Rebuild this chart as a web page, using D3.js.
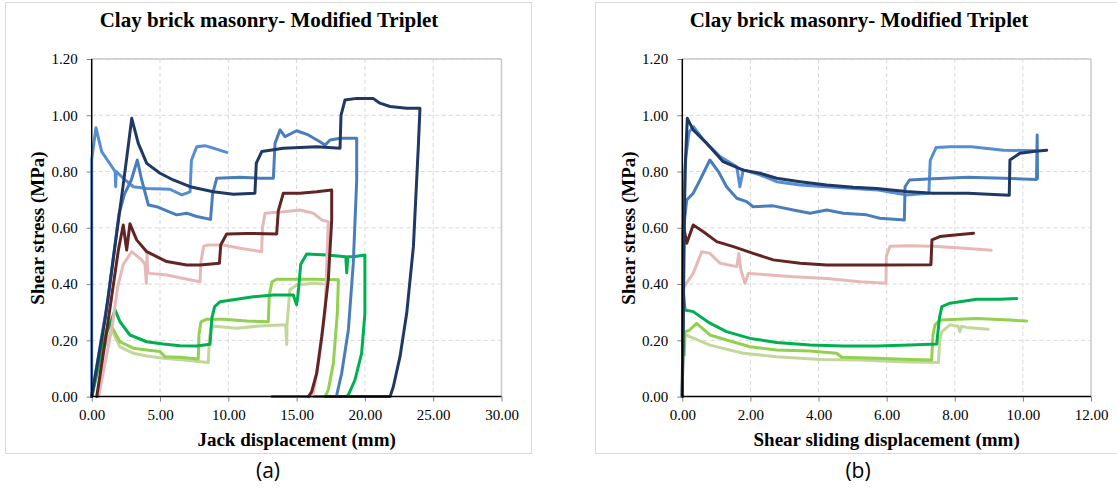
<!DOCTYPE html>
<html>
<head>
<meta charset="utf-8">
<script src="https://cdn.jsdelivr.net/npm/d3@7"></script>
<style>
  body { margin: 0; background: #fff; }
  text { font-family: "Liberation Serif", "Times New Roman", serif; }
</style>
</head>
<body>
<div id="chart"></div>
<script>
// ---- data ----
var seriesNames = ["S1", "S2", "S3", "S4", "S5", "S6", "S7", "S8"];
var seriesColors = ["#c4d79b", "#92d050", "#00b050", "#e6b9b8", "#632523", "#558ed5", "#4a7ebb", "#1f3864"];

var yTicks = [0, 0.2, 0.4, 0.6, 0.8, 1.0, 1.2];
var xTicksJack = [0, 5, 10, 15, 20, 25, 30];
var xTicksSlide = [0, 2, 4, 6, 8, 10, 12];

// (a) shear stress vs jack displacement
var jackPaleGreen = [[0,0],[0.8,0.16],[1.46,0.237],[2.07,0.177],[3.05,0.154],[4.03,0.144],[5.24,0.136],[6.71,0.13],[8.54,0.121],[8.6,0.2],[8.75,0.249],[9.15,0.249],[10.61,0.243],[12.32,0.251],[14.2,0.255],[14.28,0.185],[14.3,0.255],[14.5,0.379],[15.0,0.397],[16.22,0.403],[16.9,0.4]];
var jackLightGreen = [[0,0],[0.97,0.225],[1.34,0.26],[2.07,0.195],[3.05,0.172],[4.03,0.166],[5.0,0.16],[5.37,0.142],[6.46,0.14],[7.8,0.134],[7.85,0.22],[8.0,0.266],[8.42,0.275],[9.63,0.275],[11.35,0.269],[12.93,0.266],[13.0,0.36],[13.2,0.408],[13.54,0.417],[16.22,0.417],[18.06,0.415],[17.98,0.296],[17.69,0.118],[17.32,0.024],[17.08,0]];
var jackGreen = [[0,0],[0.9,0.2],[1.71,0.308],[2.07,0.266],[2.8,0.219],[4.03,0.195],[5.24,0.187],[6.46,0.181],[7.69,0.18],[8.66,0.186],[8.8,0.28],[9.0,0.32],[9.39,0.337],[10.61,0.346],[11.83,0.355],[13.3,0.361],[14.76,0.361],[15.0,0.326],[15.1,0.36],[15.3,0.47],[15.74,0.507],[17.2,0.503],[18.6,0.497],[18.67,0.44],[18.75,0.497],[19.15,0.497],[20.0,0.503],[20.0,0.296],[19.76,0.154],[19.27,0.059],[18.79,0.006],[18.6,0],[13.2,0]];
var jackPink = [[0.5,0],[1.5,0.25],[1.9,0.39],[2.31,0.47],[2.93,0.515],[3.3,0.5],[3.66,0.486],[3.9,0.47],[4.0,0.403],[4.05,0.51],[4.1,0.44],[4.27,0.438],[5.49,0.432],[6.71,0.42],[7.93,0.408],[8.0,0.48],[8.2,0.535],[8.54,0.539],[9.63,0.539],[10.86,0.527],[12.44,0.515],[12.5,0.6],[12.69,0.652],[14.03,0.657],[15.25,0.663],[16.22,0.652],[16.84,0.628],[17.32,0.622],[17.08,0.296],[16.59,0.118],[16.22,0.012],[16.1,0]];
var jackMaroon = [[0.37,0],[1.0,0.2],[1.95,0.52],[2.31,0.61],[2.56,0.521],[2.8,0.614],[3.29,0.557],[4.03,0.515],[5.49,0.48],[6.95,0.468],[7.93,0.468],[9.35,0.474],[9.45,0.54],[9.88,0.578],[11.35,0.58],[13.54,0.578],[13.66,0.66],[14.03,0.723],[15.25,0.723],[16.47,0.728],[17.57,0.734],[17.57,0.628],[17.32,0.415],[16.84,0.213],[16.47,0.083],[16.1,0.017],[15.86,0]];
var jackLightBlue = [[0,0],[0,0.841],[0.31,0.956],[0.73,0.871],[1.58,0.81],[1.72,0.8],[1.75,0.746],[1.8,0.8],[2.31,0.776],[3.05,0.746],[4.03,0.74],[5.73,0.737],[6.59,0.717],[7.2,0.728],[7.3,0.84],[7.69,0.888],[8.29,0.892],[8.9,0.883],[9.88,0.868]];
var jackMidBlue = [[0,0],[1.2,0.35],[2.0,0.65],[2.4,0.72],[2.9,0.77],[3.34,0.841],[3.66,0.77],[4.15,0.681],[4.76,0.675],[5.37,0.663],[6.22,0.646],[6.95,0.652],[7.69,0.64],[8.7,0.63],[8.85,0.72],[9.15,0.776],[10.86,0.78],[12.32,0.776],[13.3,0.776],[13.42,0.9],[13.79,0.948],[14.15,0.924],[15.0,0.945],[15.86,0.93],[16.71,0.906],[17.08,0.894],[17.45,0.912],[18.18,0.918],[19.4,0.918],[19.4,0.77],[19.15,0.474],[18.79,0.237],[18.3,0.083],[17.94,0.006],[17.9,0]];
var jackNavy = [[0,0],[1.0,0.28],[1.58,0.49],[2.3,0.75],[2.7,0.9],[2.93,0.989],[3.41,0.9],[4.03,0.829],[5.0,0.794],[5.97,0.77],[7.2,0.746],[8.9,0.728],[10.37,0.719],[11.95,0.723],[12.05,0.83],[12.45,0.871],[14.03,0.883],[16.47,0.888],[18.18,0.883],[18.25,1.0],[18.54,1.054],[19.4,1.06],[20.6,1.06],[21.1,1.043],[21.84,1.031],[23.06,1.025],[24.03,1.025],[23.91,0.888],[23.55,0.533],[23.06,0.296],[22.57,0.142],[22.08,0.035],[21.84,0],[17.1,0]];

// (b) shear stress vs shear sliding displacement
var slidePaleGreen = [[0.03,0.225],[0.08,0.22],[0.81,0.183],[1.79,0.154],[2.77,0.142],[4.04,0.132],[5.22,0.13],[6.39,0.124],[7.52,0.121],[7.56,0.2],[7.62,0.231],[7.86,0.255],[8.1,0.25],[8.15,0.231],[8.2,0.25],[8.35,0.246],[8.98,0.239]];
var slideLightGreen = [[0.06,0.148],[0.08,0.231],[0.2,0.235],[0.42,0.26],[0.81,0.219],[1.3,0.201],[1.99,0.177],[2.77,0.166],[3.75,0.162],[4.53,0.154],[4.68,0.14],[5.71,0.136],[6.69,0.132],[7.32,0.13],[7.36,0.22],[7.42,0.255],[7.57,0.272],[8.64,0.278],[9.62,0.272],[10.11,0.269]];
var slideGreen = [[0,0],[0.03,0.374],[0.08,0.308],[0.32,0.302],[0.81,0.261],[1.3,0.231],[1.99,0.207],[2.77,0.192],[3.75,0.183],[4.73,0.18],[5.71,0.18],[6.69,0.183],[7.47,0.187],[7.55,0.28],[7.62,0.32],[7.86,0.332],[8.64,0.346],[9.33,0.346],[9.82,0.349]];
var slidePink = [[0.06,0.392],[0.32,0.438],[0.57,0.515],[0.81,0.509],[1.11,0.474],[1.6,0.462],[1.66,0.509],[1.72,0.45],[1.84,0.403],[1.94,0.438],[2.57,0.432],[3.26,0.426],[4.24,0.42],[5.22,0.408],[5.98,0.403],[5.99,0.5],[6.1,0.534],[6.62,0.536],[7.35,0.534],[8.18,0.528],[9.07,0.52]];
var slideMaroon = [[0,0],[0.03,0.61],[0.13,0.545],[0.32,0.61],[0.62,0.586],[1.01,0.551],[1.5,0.533],[2.08,0.509],[2.67,0.486],[3.46,0.474],[4.24,0.468],[5.02,0.468],[5.71,0.468],[7.3,0.469],[7.33,0.557],[7.56,0.569],[8.08,0.575],[8.55,0.581]];
var slideLightBlue = [[0,0],[0.03,0.6],[0.1,0.85],[0.2,0.94],[0.32,0.96],[0.62,0.912],[1.11,0.853],[1.6,0.817],[1.69,0.746],[1.79,0.806],[2.28,0.788],[2.77,0.764],[3.46,0.752],[4.24,0.746],[5.02,0.74],[5.75,0.734],[6.57,0.717],[7.24,0.723],[7.28,0.84],[7.45,0.885],[7.87,0.888],[8.49,0.888],[9.43,0.876],[10.4,0.874]];
var slideMidBlue = [[0,0],[0.04,0.6],[0.13,0.699],[0.32,0.723],[0.52,0.77],[0.81,0.841],[1.06,0.8],[1.3,0.746],[1.6,0.705],[1.89,0.693],[2.08,0.675],[2.67,0.678],[3.26,0.663],[3.75,0.652],[4.24,0.663],[4.73,0.652],[5.41,0.646],[5.8,0.634],[6.52,0.628],[6.54,0.746],[6.67,0.77],[7.35,0.774],[8.39,0.78],[9.43,0.776],[10.4,0.772],[10.42,0.93],[10.43,0.775]];
var slideNavy = [[0,0],[0.08,0.8],[0.147,0.989],[0.32,0.948],[0.72,0.9],[1.2,0.835],[1.79,0.805],[2.28,0.794],[2.77,0.776],[3.46,0.764],[4.24,0.752],[5.02,0.744],[5.71,0.74],[6.57,0.729],[7.35,0.723],[8.39,0.723],[9.6,0.716],[9.62,0.841],[9.91,0.865],[10.37,0.872],[10.7,0.876]];

var jackSeries = [jackPaleGreen, jackLightGreen, jackGreen, jackPink, jackMaroon, jackLightBlue, jackMidBlue, jackNavy];
var slideSeries = [slidePaleGreen, slideLightGreen, slideGreen, slidePink, slideMaroon, slideLightBlue, slideMidBlue, slideNavy];

var width = 1117, height = 488;

var svg = d3.select('#chart')
  .append('svg')
  .attr('width', width)
  .attr('height', height);

function drawPanel(cfg) {
  var g = svg.append('g');

  // outer frame of the chart box
  g.append('rect')
    .attr('x', cfg.box[0] + 0.5).attr('y', cfg.box[1] + 0.5)
    .attr('width', cfg.box[2]).attr('height', cfg.box[3])
    .attr('fill', '#fff').attr('stroke', '#d9d9d9');

  var x = d3.scaleLinear().domain(cfg.xDomain).range([cfg.left, cfg.right]);
  var y = d3.scaleLinear().domain([0, 1.2]).range([cfg.bottom, cfg.top]);

  // dashed grid
  g.selectAll('.vgrid').data(cfg.xTicks.slice(1, -1)).enter()
    .append('line')
    .attr('x1', function(d) { return x(d); }).attr('x2', function(d) { return x(d); })
    .attr('y1', cfg.top).attr('y2', cfg.bottom)
    .attr('stroke', '#d9d9d9').attr('stroke-dasharray', '4,3');
  g.selectAll('.hgrid').data(yTicks.slice(1)).enter()
    .append('line')
    .attr('x1', cfg.left).attr('x2', cfg.right)
    .attr('y1', function(d) { return y(d); }).attr('y2', function(d) { return y(d); })
    .attr('stroke', '#d9d9d9').attr('stroke-dasharray', '4,3');

  // plot area top/right border
  g.append('line').attr('x1', cfg.left).attr('x2', cfg.right).attr('y1', cfg.top).attr('y2', cfg.top)
    .attr('stroke', '#c8c8c8').attr('stroke-width', 1.5);
  g.append('line').attr('x1', cfg.right).attr('x2', cfg.right).attr('y1', cfg.top).attr('y2', cfg.bottom)
    .attr('stroke', '#c8c8c8').attr('stroke-width', 1.5);

  // axes
  var xAxis = g.append('g')
    .attr('transform', 'translate(0,' + cfg.bottom + ')')
    .call(d3.axisBottom(x).tickValues(cfg.xTicks).tickSize(5).tickPadding(8)
      .tickFormat(d3.format('.2f')));
  var yAxis = g.append('g')
    .attr('transform', 'translate(' + cfg.left + ',0)')
    .call(d3.axisLeft(y).tickValues(yTicks).tickSize(5).tickPadding(9)
      .tickFormat(d3.format('.2f')));
  [xAxis, yAxis].forEach(function(a) {
    a.select('.domain').remove();
    a.selectAll('.tick line').attr('stroke', '#808080');
    a.selectAll('.tick text')
      .attr('font-size', 15)
      .attr('fill', '#000');
  });

  // series
  var line = d3.line()
    .x(function(d) { return x(d[0]); })
    .y(function(d) { return y(d[1]); });
  g.selectAll('.series').data(cfg.series).enter()
    .append('path')
    .attr('class', 'series')
    .attr('d', line)
    .attr('fill', 'none')
    .attr('stroke', function(d, i) { return seriesColors[i]; })
    .attr('stroke-width', 3)
    .attr('stroke-linejoin', 'round')
    .attr('stroke-linecap', 'round');

  // black axis lines on top
  g.append('line').attr('x1', cfg.left).attr('x2', cfg.left).attr('y1', cfg.top).attr('y2', cfg.bottom)
    .attr('stroke', '#000').attr('stroke-width', 1.5);
  g.append('line').attr('x1', cfg.left).attr('x2', cfg.right).attr('y1', cfg.bottom).attr('y2', cfg.bottom)
    .attr('stroke', '#000').attr('stroke-width', 1.5);

  // titles
  g.append('text')
    .attr('x', cfg.titleX).attr('y', 27)
    .attr('text-anchor', 'middle')
    .attr('font-size', 21).attr('font-weight', 'bold')
    .text('Clay brick masonry- Modified Triplet');
  g.append('text')
    .attr('x', (cfg.left + cfg.right) / 2).attr('y', 446)
    .attr('text-anchor', 'middle')
    .attr('font-size', 19).attr('font-weight', 'bold')
    .text(cfg.xLabel);
  g.append('text')
    .attr('transform', 'translate(' + cfg.yLabelX + ',228) rotate(-90)')
    .attr('text-anchor', 'middle')
    .attr('font-size', 19).attr('font-weight', 'bold')
    .text('Shear stress (MPa)');
  g.append('text')
    .attr('x', cfg.tagX).attr('y', 478)
    .attr('text-anchor', 'middle')
    .style('font-family', '"Open Sans", sans-serif')
    .attr('font-size', 21)
    .text(cfg.tag);
}

drawPanel({
  box: [5, 2, 526, 451],
  left: 91.7, right: 501.5, top: 59, bottom: 396.6,
  xDomain: [0, 30], xTicks: xTicksJack,
  series: jackSeries,
  titleX: 269, yLabelX: 44, tagX: 268,
  xLabel: 'Jack displacement (mm)', tag: '(a)'
});

drawPanel({
  box: [595, 2, 530, 451],
  left: 682.3, right: 1091, top: 59, bottom: 396.6,
  xDomain: [0, 12], xTicks: xTicksSlide,
  series: slideSeries,
  titleX: 859, yLabelX: 634.5, tagX: 858,
  xLabel: 'Shear sliding displacement (mm)', tag: '(b)'
});
</script>
</body>
</html>
